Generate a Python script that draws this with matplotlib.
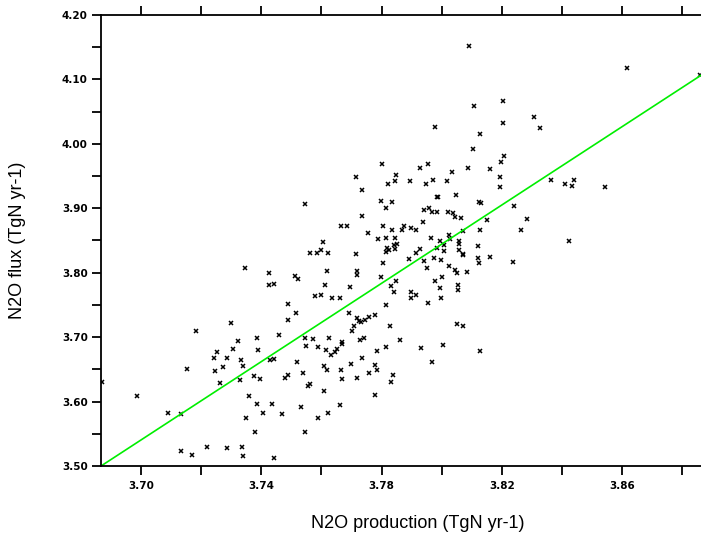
import matplotlib
matplotlib.use('Agg')
import matplotlib.pyplot as plt
import numpy as np
from matplotlib.ticker import FixedLocator, FormatStrFormatter

# N2O production (x) vs N2O flux (y)
n2o_production = [
    3.809, 3.8615, 3.886, 3.8205, 3.8107, 3.7977, 3.8308, 3.8204, 3.8327, 3.8128,
    3.8104, 3.8208, 3.8197, 3.7802, 3.7929, 3.7954, 3.8087, 3.8159, 3.7848, 3.8034,
    3.8194, 3.7846, 3.7893, 3.7971, 3.8016, 3.8363, 3.8410, 3.8440, 3.8433, 3.8542,
    3.7821, 3.7949, 3.8193, 3.7984, 3.7988, 3.8046, 3.7798, 3.7835, 3.8123, 3.8129,
    3.7815, 3.7941, 3.7958, 3.7969, 3.7985, 3.8022, 3.8036, 3.8043, 3.8063, 3.8239,
    3.8284, 3.8150, 3.7937, 3.7805, 3.7836, 3.7874, 3.7868, 3.7897, 3.7913, 3.8072,
    3.8127, 3.8262, 3.8025, 3.7814, 3.7845, 3.7964, 3.8028, 3.7993, 3.8056, 3.8056,
    3.7840, 3.7852, 3.8006, 3.8423, 3.8119, 3.7819, 3.7826, 3.7845, 3.7985, 3.8058,
    3.7814, 3.7928, 3.8008, 3.7913, 3.8069, 3.8070, 3.7890, 3.7973, 3.8121, 3.8159,
    3.7940, 3.7997, 3.8123, 3.8236, 3.7805, 3.7950, 3.8023, 3.8043, 3.8050, 3.8084,
    3.7799, 3.8001, 3.7849, 3.7979, 3.7832, 3.8053, 3.7994, 3.7840, 3.7899, 3.7913,
    3.8054, 3.7899, 3.7997, 3.7814, 3.7954, 3.7829, 3.8051, 3.8069, 3.7861, 3.7814,
    3.7930, 3.8003, 3.8127, 3.7968, 3.7837, 3.7832, 3.7715, 3.7736, 3.7544, 3.7734,
    3.7666, 3.7686, 3.7754, 3.7788, 3.7606, 3.7562, 3.7586, 3.7599, 3.7621, 3.7715,
    3.7347, 3.7425, 3.7425, 3.7443, 3.7511, 3.7523, 3.7617, 3.7612, 3.7717, 3.7718,
    3.7694, 3.7579, 3.7598, 3.7635, 3.7663, 3.7489, 3.7516, 3.7691, 3.7489, 3.7298,
    3.7719, 3.7707, 3.7725, 3.7733, 3.7746, 3.7758, 3.7778, 3.7702, 3.7183, 3.7458,
    3.7387, 3.7546, 3.7573, 3.7624, 3.7742, 3.7727, 3.7324, 3.7667, 3.7668, 3.7550,
    3.7590, 3.7305, 3.7388, 3.7615, 3.7652, 3.7646, 3.7631, 3.7254, 3.7785, 3.7243,
    3.7286, 3.7272, 3.7247, 3.7331, 3.7338, 3.7429, 3.7443, 3.7520, 3.7734, 3.7699,
    3.7779, 3.7784, 3.7609, 3.7619, 3.7665, 3.7154, 3.7757, 3.7264, 3.7330, 3.7375,
    3.7397, 3.7478, 3.7488, 3.7540, 3.7667, 3.7719, 3.7554, 3.7563, 3.7609, 3.6870,
    3.7359, 3.7779, 3.6987, 3.7091, 3.7133, 3.7387, 3.7436, 3.7531, 3.7663, 3.7406,
    3.7468, 3.7622, 3.7350, 3.7587, 3.7379, 3.7545, 3.7133, 3.7169, 3.7219, 3.7285,
    3.7335, 3.7339, 3.7443,
]
n2o_flux = [
    4.152, 4.118, 4.107, 4.066, 4.058, 4.026, 4.041, 4.033, 4.024, 4.015,
    3.992, 3.981, 3.972, 3.969, 3.963, 3.968, 3.963, 3.961, 3.952, 3.956,
    3.949, 3.943, 3.943, 3.944, 3.943, 3.944, 3.938, 3.944, 3.935, 3.933,
    3.937, 3.937, 3.933, 3.917, 3.918, 3.920, 3.911, 3.909, 3.910, 3.908,
    3.901, 3.897, 3.900, 3.895, 3.894, 3.894, 3.892, 3.886, 3.885, 3.904,
    3.883, 3.882, 3.879, 3.873, 3.867, 3.872, 3.866, 3.870, 3.867, 3.864,
    3.866, 3.867, 3.859, 3.854, 3.854, 3.854, 3.852, 3.849, 3.849, 3.845,
    3.843, 3.845, 3.843, 3.849, 3.841, 3.839, 3.836, 3.837, 3.839, 3.836,
    3.832, 3.837, 3.833, 3.830, 3.829, 3.827, 3.821, 3.823, 3.823, 3.824,
    3.818, 3.819, 3.815, 3.817, 3.815, 3.807, 3.810, 3.804, 3.800, 3.801,
    3.794, 3.794, 3.787, 3.787, 3.779, 3.781, 3.776, 3.770, 3.770, 3.765,
    3.773, 3.761, 3.761, 3.750, 3.753, 3.718, 3.721, 3.717, 3.696, 3.685,
    3.683, 3.688, 3.679, 3.661, 3.641, 3.630, 3.949, 3.929, 3.906, 3.888,
    3.873, 3.873, 3.861, 3.853, 3.847, 3.830, 3.830, 3.836, 3.831, 3.829,
    3.808, 3.799, 3.781, 3.783, 3.795, 3.790, 3.803, 3.781, 3.803, 3.796,
    3.778, 3.764, 3.766, 3.761, 3.760, 3.752, 3.738, 3.737, 3.727, 3.722,
    3.729, 3.717, 3.725, 3.723, 3.726, 3.732, 3.734, 3.710, 3.710, 3.704,
    3.699, 3.699, 3.697, 3.698, 3.699, 3.696, 3.694, 3.693, 3.690, 3.686,
    3.684, 3.682, 3.680, 3.680, 3.681, 3.677, 3.673, 3.677, 3.678, 3.668,
    3.668, 3.654, 3.648, 3.665, 3.655, 3.665, 3.666, 3.662, 3.668, 3.658,
    3.657, 3.649, 3.655, 3.649, 3.649, 3.650, 3.645, 3.629, 3.634, 3.640,
    3.635, 3.636, 3.642, 3.644, 3.635, 3.636, 3.624, 3.627, 3.616, 3.630,
    3.609, 3.610, 3.608, 3.583, 3.581, 3.596, 3.597, 3.592, 3.594, 3.583,
    3.581, 3.583, 3.575, 3.575, 3.553, 3.552, 3.524, 3.517, 3.529, 3.528,
    3.530, 3.516, 3.513,
]

# fitted line y = slope * x + intercept
fit_slope = 3.04
fit_intercept = -7.7076

x_major = [3.70, 3.74, 3.78, 3.82, 3.86]
x_minor = [3.72, 3.76, 3.80, 3.84, 3.88]
y_major = [3.50, 3.60, 3.70, 3.80, 3.90, 4.00, 4.10, 4.20]
y_minor = [3.55, 3.65, 3.75, 3.85, 3.95, 4.05, 4.15]

xlim = (3.6867, 3.8975)
ylim = (3.50, 4.20)

fig = plt.figure(figsize=(7.01, 5.36), dpi=100)
ax = fig.add_axes([101 / 701, 70 / 536, 634 / 701, 451 / 536])

ax.plot(n2o_production, n2o_flux, linestyle='none', marker='x',
        color='black', markersize=3.2, markeredgewidth=1.1)

line_x = np.array(xlim)
ax.plot(line_x, fit_slope * line_x + fit_intercept, color='#00ee00', linewidth=1.2)

ax.set_xlim(*xlim)
ax.set_ylim(*ylim)

ax.xaxis.set_major_locator(FixedLocator(x_major))
ax.xaxis.set_minor_locator(FixedLocator(x_minor))
ax.yaxis.set_major_locator(FixedLocator(y_major))
ax.yaxis.set_minor_locator(FixedLocator(y_minor))
ax.xaxis.set_major_formatter(FormatStrFormatter('%.2f'))
ax.yaxis.set_major_formatter(FormatStrFormatter('%.2f'))

for s in ax.spines.values():
    s.set_linewidth(1.3)

ax.tick_params(which='both', direction='out', length=6.5, width=1.3,
               top=True, right=False, labeltop=False)
ax.tick_params(axis='x', which='major', pad=4)
ax.tick_params(axis='y', which='major', pad=3)
for lab in ax.get_xticklabels() + ax.get_yticklabels():
    lab.set_fontsize(7.5)
    lab.set_fontweight('bold')

ax.set_xlabel('N2O production (TgN yr-1)', fontsize=13, family='Liberation Sans', va='center')
ax.set_ylabel('N2O flux (TgN yr-1)', fontsize=13, family='Liberation Sans', va='center')
ax.xaxis.set_label_coords(0.5, -0.1264)
ax.yaxis.set_label_coords(-0.131, 0.5)

fig.savefig('out.png', dpi=100)
